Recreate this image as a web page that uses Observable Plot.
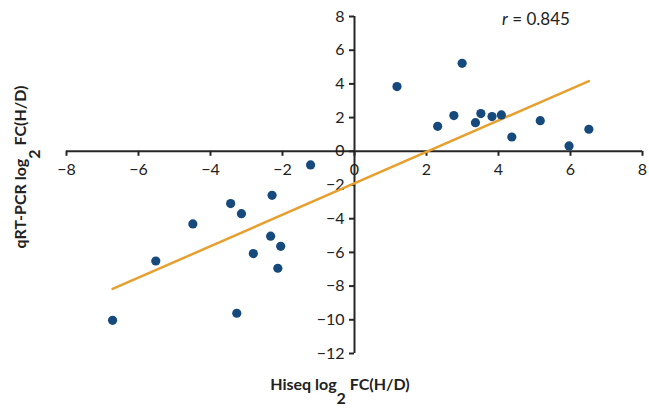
<!DOCTYPE html>
<html>
<head>
<meta charset="utf-8">
<script src="https://cdn.jsdelivr.net/npm/d3@7"></script>
<script src="https://cdn.jsdelivr.net/npm/@observablehq/plot@0.6"></script>
<style>
  html, body { margin: 0; padding: 0; background: #fff; }
  #chart { width: 649px; height: 410px; }
</style>
</head>
<body>
<div id="chart"></div>
<script>
// Hiseq log2 FC (x) vs qRT-PCR log2 FC (y)
const hiseq = [1.18, 2.99, 2.31, 2.76, 3.36, 3.51, 3.82, 4.08, 4.37, 5.16, 5.96, 6.51,
               -1.22, -2.29, -3.44, -3.14, -4.49, -2.33, -2.05, -2.81, -2.13, -5.52, -3.27, -6.72];
const qpcr  = [3.84, 5.22, 1.48, 2.12, 1.70, 2.24, 2.06, 2.16, 0.85, 1.82, 0.32, 1.31,
               -0.81, -2.61, -3.10, -3.70, -4.31, -5.04, -5.64, -6.07, -6.94, -6.51, -9.61, -10.03];
// fitted line end points
const fitX = [-6.72, 6.51];
const fitY = [-8.17, 4.17];
// axis ticks
const xTicks = [-8, -6, -4, -2, 0, 2, 4, 6, 8];
const yTicks = [8, 6, 4, 2, 0, -2, -4, -6, -8, -10, -12];
const xTickLabels = ["−8", "−6", "−4", "−2", "0", "2", "4", "6", "8"];
const yTickLabels = ["8", "6", "4", "2", "0", "−2", "−4", "−6", "−8", "−10", "−12"];
const rText = "0.845";

const points = hiseq.map((x, i) => ({x, y: qpcr[i]}));
const fit = fitX.map((x, i) => ({x, y: fitY[i]}));
const axisColor = "#262626";
const xMin = d3.min(xTicks), xMax = d3.max(xTicks);
const yMin = d3.min(yTicks), yMax = d3.max(yTicks);

const svg = Plot.plot({
  width: 649,
  height: 410,
  marginLeft: 66,
  marginRight: 7,
  marginTop: 16,
  marginBottom: 57,
  x: {domain: [xMin, xMax], axis: null},
  y: {domain: [yMin, yMax], axis: null},
  style: {fontFamily: "Lato, 'Open Sans', sans-serif", fontSize: "16px", background: "white", color: "#222"},
  marks: [
    // axis lines crossing at zero
    Plot.ruleY([0], {x1: xMin, x2: xMax, stroke: axisColor, strokeWidth: 2}),
    Plot.ruleX([0], {y1: yMin, y2: yMax, stroke: axisColor, strokeWidth: 2}),
    // tick marks
    Plot.ruleX(xTicks, {x: d => d, y1: () => 0, y2: () => 0, insetTop: 0, insetBottom: -5, stroke: axisColor, strokeWidth: 2}),
    Plot.ruleY(yTicks, {y: d => d, x1: () => 0, x2: () => 0, insetLeft: -5, insetRight: 0, stroke: axisColor, strokeWidth: 2}),
    // tick labels
    Plot.text(xTicks, {x: d => d, y: () => 0, text: (d, i) => xTickLabels[i], dy: 19, fill: "#222", fontSize: 16}),
    Plot.text(yTicks, {x: () => 0, y: d => d, text: (d, i) => yTickLabels[i], dx: -10, textAnchor: "end", fill: "#222", fontSize: 16}),
    // fitted line
    Plot.line(fit, {x: "x", y: "y", stroke: "#e6a030", strokeWidth: 2.5}),
    // points
    Plot.dot(points, {x: "x", y: "y", r: 4.6, fill: "#174a7c", stroke: "none"})
  ]
});

const s = d3.select(svg);
// r annotation
const rt = s.append("text")
  .attr("x", 536).attr("y", 25)
  .attr("font-family", "Lato, 'Open Sans', sans-serif")
  .attr("font-size", 17)
  .attr("fill", "#222");
rt.append("tspan").attr("font-style", "italic").text("r");
rt.append("tspan").text(" = " + rText);

// x axis title
const xt = s.append("text")
  .attr("x", 340).attr("y", 390)
  .attr("text-anchor", "middle")
  .attr("font-family", "Lato, 'Open Sans', sans-serif")
  .attr("font-size", 16).attr("font-weight", "bold")
  .attr("fill", "#222");
xt.append("tspan").text("Hiseq log");
xt.append("tspan").attr("dy", 14).text("2");
xt.append("tspan").attr("dy", -14).text(" FC(H/D)");

// y axis title
const yt = s.append("text")
  .attr("transform", "translate(26,167) rotate(-90)")
  .attr("text-anchor", "middle")
  .attr("font-family", "Lato, 'Open Sans', sans-serif")
  .attr("font-size", 16).attr("font-weight", "bold")
  .attr("fill", "#222");
yt.append("tspan").text("qRT-PCR log");
yt.append("tspan").attr("dy", 14).text("2");
yt.append("tspan").attr("dy", -14).text(" FC(H/D)");

document.getElementById("chart").appendChild(svg);
</script>
</body>
</html>
